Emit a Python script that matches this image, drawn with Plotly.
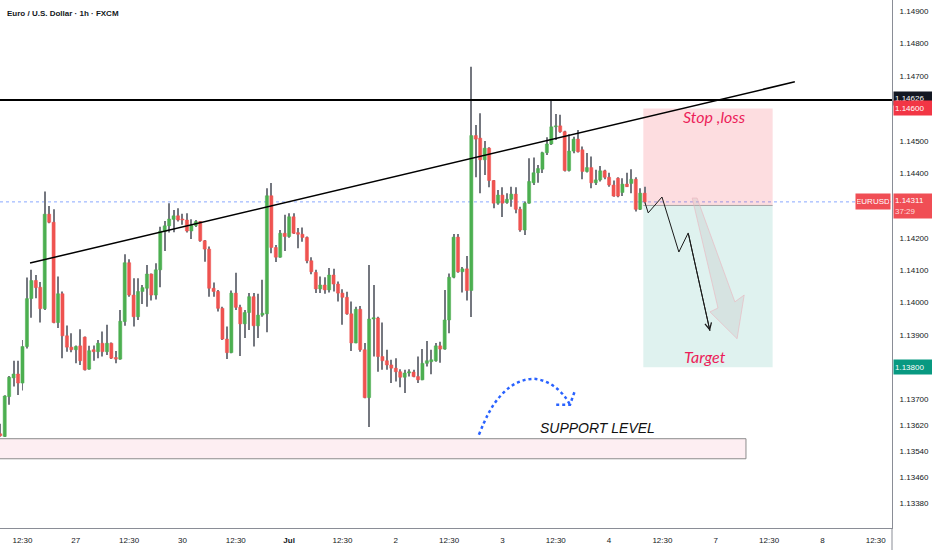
import plotly.graph_objects as go

# hourly EURUSD candles, bar index -1 .. 144
opens = [1.13594, 1.13586, 1.13709, 1.13767, 1.13779, 1.13751, 1.13864, 1.14012, 1.14068, 1.14047,
         1.13981, 1.14273, 1.14248, 1.13938, 1.14027, 1.13897, 1.13862, 1.13854, 1.13866, 1.13893,
         1.13794, 1.13854, 1.13848, 1.13874, 1.13848, 1.13874, 1.13830, 1.13825, 1.13941, 1.14123,
         1.14023, 1.13956, 1.14034, 1.14044, 1.14088, 1.14023, 1.14101, 1.14219, 1.14237, 1.14257,
         1.14268, 1.14258, 1.14255, 1.14221, 1.14238, 1.14250, 1.14191, 1.14165, 1.14044, 1.14034,
         1.13982, 1.13887, 1.13845, 1.14029, 1.13985, 1.13934, 1.13969, 1.14018, 1.13928, 1.13961,
         1.13965, 1.14330, 1.14170, 1.14140, 1.14214, 1.14204, 1.14265, 1.14216, 1.14211, 1.14201,
         1.14129, 1.14093, 1.14042, 1.14054, 1.14039, 1.14085, 1.14057, 1.14029, 1.14016, 1.13965,
         1.13875, 1.13979, 1.13854, 1.13706, 1.13949, 1.13952, 1.13833, 1.13820, 1.13807, 1.13797,
         1.13786, 1.13769, 1.13782, 1.13785, 1.13771, 1.13761, 1.13812, 1.13817, 1.13820, 1.13866,
         1.13856, 1.13946, 1.14078, 1.14202, 1.14095, 1.14104, 1.14037, 1.14516, 1.14508, 1.14441,
         1.14477, 1.14377, 1.14307, 1.14332, 1.14309, 1.14319, 1.14335, 1.14288, 1.14224, 1.14307,
         1.14370, 1.14401, 1.14412, 1.14463, 1.14490, 1.14543, 1.14546, 1.14528, 1.14408, 1.14468,
         1.14505, 1.14472, 1.14405, 1.14417, 1.14370, 1.14379, 1.14407, 1.14387, 1.14363, 1.14384,
         1.14340, 1.14366, 1.14368, 1.14381, 1.14288, 1.14338]
highs = [1.13625, 1.13713, 1.13773, 1.13820, 1.13820, 1.13884, 1.14077, 1.14101, 1.14085, 1.14063,
         1.14343, 1.14298, 1.14288, 1.14080, 1.14034, 1.13929, 1.13905, 1.13867, 1.13917, 1.13895,
         1.13866, 1.13867, 1.13884, 1.13910, 1.13931, 1.13876, 1.13850, 1.13977, 1.14149, 1.14134,
         1.14075, 1.14075, 1.14054, 1.14116, 1.14090, 1.14121, 1.14234, 1.14252, 1.14307, 1.14286,
         1.14291, 1.14274, 1.14276, 1.14257, 1.14255, 1.14252, 1.14193, 1.14173, 1.14062, 1.14039,
         1.13987, 1.13926, 1.14037, 1.14092, 1.13993, 1.13977, 1.14029, 1.14029, 1.14027, 1.14070,
         1.14353, 1.14369, 1.14178, 1.14224, 1.14271, 1.14276, 1.14276, 1.14230, 1.14232, 1.14204,
         1.14140, 1.14101, 1.14080, 1.14078, 1.14107, 1.14104, 1.14065, 1.14041, 1.14033, 1.14003,
         1.13987, 1.13989, 1.13875, 1.14116, 1.14054, 1.13956, 1.13938, 1.13854, 1.13823, 1.13828,
         1.13794, 1.13792, 1.13794, 1.13792, 1.13833, 1.13856, 1.13881, 1.13854, 1.13875, 1.13879,
         1.14039, 1.14090, 1.14212, 1.14212, 1.14110, 1.14144, 1.14729, 1.14549, 1.14585, 1.14499,
         1.14480, 1.14379, 1.14348, 1.14356, 1.14338, 1.14358, 1.14356, 1.14296, 1.14312, 1.14446,
         1.14448, 1.14425, 1.14466, 1.14511, 1.14626, 1.14583, 1.14580, 1.14531, 1.14520, 1.14512,
         1.14533, 1.14482, 1.14462, 1.14451, 1.14410, 1.14422, 1.14410, 1.14401, 1.14377, 1.14387,
         1.14384, 1.14401, 1.14412, 1.14387, 1.14353, 1.14358]
lows = [1.13585, 1.13584, 1.13684, 1.13740, 1.13714, 1.13728, 1.13858, 1.13953, 1.14013, 1.13938,
        1.13977, 1.14245, 1.13936, 1.13921, 1.13828, 1.13848, 1.13846, 1.13812, 1.13807, 1.13790,
        1.13792, 1.13820, 1.13828, 1.13833, 1.13838, 1.13825, 1.13812, 1.13823, 1.13928, 1.14018,
        1.13926, 1.13946, 1.13995, 1.13987, 1.14006, 1.14009, 1.14047, 1.14159, 1.14216, 1.14217,
        1.14250, 1.14240, 1.14216, 1.14196, 1.14233, 1.14188, 1.14126, 1.14018, 1.14018, 1.13972,
        1.13884, 1.13825, 1.13843, 1.13977, 1.13835, 1.13890, 1.13915, 1.13864, 1.13890, 1.13956,
        1.13908, 1.14152, 1.14125, 1.14138, 1.14159, 1.14200, 1.14212, 1.14168, 1.14188, 1.14121,
        1.14087, 1.14029, 1.14029, 1.14027, 1.14031, 1.14034, 1.14003, 1.13931, 1.13962, 1.13850,
        1.13874, 1.13848, 1.13704, 1.13615, 1.13833, 1.13786, 1.13792, 1.13792, 1.13751, 1.13756,
        1.13738, 1.13720, 1.13771, 1.13769, 1.13751, 1.13760, 1.13802, 1.13778, 1.13817, 1.13814,
        1.13854, 1.13905, 1.14075, 1.14092, 1.14031, 1.14006, 1.13955, 1.14387, 1.14338, 1.14394,
        1.14356, 1.14291, 1.14302, 1.14264, 1.14305, 1.14296, 1.14276, 1.14219, 1.14209, 1.14305,
        1.14363, 1.14370, 1.14400, 1.14456, 1.14487, 1.14502, 1.14525, 1.14405, 1.14405, 1.14461,
        1.14464, 1.14381, 1.14402, 1.14353, 1.14363, 1.14374, 1.14381, 1.14358, 1.14327, 1.14325,
        1.14329, 1.14357, 1.14338, 1.14281, 1.14286, 1.14307]
closes = [1.13588, 1.13711, 1.13769, 1.13779, 1.13751, 1.13864, 1.14012, 1.14068, 1.14046, 1.13981,
          1.14273, 1.14248, 1.13938, 1.14027, 1.13897, 1.13862, 1.13854, 1.13864, 1.13820, 1.13792,
          1.13851, 1.13848, 1.13874, 1.13848, 1.13874, 1.13828, 1.13825, 1.13942, 1.14123, 1.14023,
          1.13956, 1.14034, 1.14046, 1.14088, 1.14023, 1.14101, 1.14221, 1.14237, 1.14258, 1.14268,
          1.14255, 1.14255, 1.14221, 1.14238, 1.14250, 1.14191, 1.14165, 1.14044, 1.14034, 1.13982,
          1.13887, 1.13845, 1.14029, 1.13985, 1.13934, 1.13969, 1.14018, 1.13928, 1.13961, 1.13967,
          1.14330, 1.14170, 1.14140, 1.14214, 1.14204, 1.14265, 1.14214, 1.14211, 1.14201, 1.14129,
          1.14095, 1.14042, 1.14054, 1.14039, 1.14085, 1.14057, 1.14029, 1.14016, 1.13965, 1.13875,
          1.13979, 1.13854, 1.13706, 1.13949, 1.13953, 1.13833, 1.13820, 1.13807, 1.13797, 1.13786,
          1.13769, 1.13782, 1.13786, 1.13771, 1.13761, 1.13812, 1.13820, 1.13823, 1.13866, 1.13856,
          1.13946, 1.14078, 1.14202, 1.14095, 1.14104, 1.14037, 1.14516, 1.14505, 1.14441, 1.14477,
          1.14377, 1.14307, 1.14332, 1.14307, 1.14319, 1.14335, 1.14288, 1.14224, 1.14307, 1.14374,
          1.14401, 1.14414, 1.14463, 1.14490, 1.14543, 1.14546, 1.14528, 1.14408, 1.14468, 1.14505,
          1.14466, 1.14405, 1.14417, 1.14370, 1.14379, 1.14407, 1.14387, 1.14363, 1.14329, 1.14329,
          1.14366, 1.14358, 1.14381, 1.14288, 1.14338, 1.14311]
bars = list(range(-1, len(closes) - 1))

# time axis (bar index of each label)
time_ticks = [4, 16, 28, 40, 52, 64, 76, 88, 100, 112, 124, 136, 148, 160, 172, 184, 196]
time_labels = ['12:30', '27', '12:30', '30', '12:30', '<b>Jul</b>', '12:30', '2', '12:30', '3',
               '12:30', '4', '12:30', '7', '12:30', '8', '12:30']
price_ticks = [1.149, 1.148, 1.147, 1.145, 1.144, 1.142, 1.141, 1.140, 1.139, 1.137,
               1.1362, 1.1354, 1.1346, 1.1338]

# drawings
resistance = 1.14626
last_price = 1.14311
trend_line = [(5.7, 1.14122), (177.8, 1.14682)]
entry, stop, target = 1.14300, 1.14600, 1.13800
position_bars = (143.7, 172.8)
support_zone = (1.13517, 1.13579)
support_end = 166.8
zigzag_bars = [144.1, 144.8, 147.9, 151.7, 153.8, 158.7]
zigzag_prices = [1.14308, 1.14277, 1.14326, 1.14156, 1.14215, 1.13912]
big_arrow = [(154.7, 1.14323), (160.5, 1.13983), (158.7, 1.13971), (164.8, 1.13888),
             (166.4, 1.14023), (164.3, 1.14002), (155.8, 1.14323)]
arc_bars = [106.7, 108.7, 110.8, 113.7, 116.4, 119.1, 121.8, 124.1, 126.1, 127.2]
arc_prices = [1.13591, 1.13653, 1.13699, 1.13739, 1.13758, 1.13764, 1.13755, 1.13736, 1.13708, 1.13684]

GREEN = '#4caf50'
RED = '#ef5350'
WICK = '#74777f'
AXIS = '#8a8d96'
TEXT = '#131722'
PINK = '#ec1e5a'

fig = go.Figure()

# candles as two overlaid bar traces: thin grey wick (low..high), then the coloured body
wick_len = [h - l for h, l in zip(highs, lows)]
fig.add_trace(go.Bar(x=bars, y=wick_len, base=lows, width=0.22,
                     marker=dict(color=WICK, line=dict(width=0)),
                     hoverinfo='skip', showlegend=False))
body_bot = [min(o, c) for o, c in zip(opens, closes)]
body_len = [abs(c - o) for o, c in zip(opens, closes)]
body_col = [GREEN if c >= o else RED for o, c in zip(opens, closes)]
fig.add_trace(go.Bar(x=bars, y=body_len, base=body_bot, width=0.7,
                     marker=dict(color=body_col, line=dict(color=body_col, width=0.5)),
                     hoverinfo='skip', showlegend=False))

# zigzag projection
fig.add_trace(go.Scatter(x=zigzag_bars, y=zigzag_prices, mode='lines',
                         line=dict(color='#1a1a1a', width=1), hoverinfo='skip', showlegend=False))

# blue dashed arc with hook
fig.add_trace(go.Scatter(x=arc_bars, y=arc_prices, mode='lines',
                         line=dict(color='#2962ff', width=2.5, dash='3px,3px', shape='spline'),
                         hoverinfo='skip', showlegend=False))
fig.add_trace(go.Scatter(x=[124.1, arc_bars[-1], 128.3], y=[1.13684, arc_prices[-1], 1.13727],
                         mode='lines', line=dict(color='#2962ff', width=2.5, dash='3px,3px'),
                         hoverinfo='skip', showlegend=False))

shapes = [
    dict(type='rect', x0=-5, x1=support_end, y0=support_zone[0], y1=support_zone[1],
         fillcolor='#fdeef2', line=dict(color='#8c8c8c', width=1), layer='below'),
    dict(type='rect', x0=position_bars[0], x1=position_bars[1], y0=entry, y1=stop,
         fillcolor='rgba(242,54,69,0.17)', line=dict(width=0), layer='below'),
    dict(type='rect', x0=position_bars[0], x1=position_bars[1], y0=target, y1=entry,
         fillcolor='rgba(8,153,129,0.13)', line=dict(width=0), layer='below'),
    dict(type='line', x0=position_bars[0], x1=position_bars[1], y0=entry, y1=entry,
         line=dict(color='#a3a3a3', width=1), layer='below'),
    dict(type='line', xref='paper', x0=0, x1=1, y0=last_price, y1=last_price,
         line=dict(color='rgba(41,98,255,0.55)', width=1, dash='dot'), layer='below'),
    dict(type='line', xref='paper', x0=0, x1=1, y0=resistance, y1=resistance,
         line=dict(color='#000000', width=2)),
    dict(type='line', x0=trend_line[0][0], y0=trend_line[0][1], x1=trend_line[1][0],
         y1=trend_line[1][1], line=dict(color='#000000', width=1.5)),
    dict(type='path',
         path='M ' + ' L '.join(f'{b},{p}' for b, p in big_arrow) + ' Z',
         fillcolor='rgba(190,190,190,0.28)', line=dict(color='rgba(235,180,190,0.6)', width=1)),
    dict(type='line', xref='paper', yref='paper', x0=1, x1=1, y0=-0.06, y1=0,
         line=dict(color=AXIS, width=1)),
]

annotations = [
    dict(xref='paper', yref='paper', x=0, y=1, xanchor='left', yanchor='middle', xshift=5,
         yshift=-13, showarrow=False, text='Euro / U.S. Dollar · 1h · FXCM',
         font=dict(family='Liberation Sans', size=8, color=TEXT, weight='bold')),
    dict(x=zigzag_bars[-1], y=zigzag_prices[-1], ax=zigzag_bars[-2], ay=zigzag_prices[-2],
         axref='x', ayref='y', text='', showarrow=True, arrowhead=5, arrowsize=1.3,
         arrowwidth=1, arrowcolor='#1a1a1a', standoff=0),
    dict(x=159.8, y=1.14574, text='<i>Stop ,loss</i>', showarrow=False,
         font=dict(family='Lato', size=16, color=PINK)),
    dict(x=157.6, y=1.13833, text='<i>Target</i>', showarrow=False,
         font=dict(family='Lato', size=16, color=PINK)),
    dict(x=133.3, y=1.13612, text='<i>SUPPORT LEVEL</i>', showarrow=False,
         font=dict(family='Liberation Sans', size=14, color='#111111')),
    # price axis labels
    dict(xref='paper', x=1, y=resistance, xanchor='left', yanchor='middle', xshift=1, yshift=1,
         text='1.14626', showarrow=False, bgcolor='#131722', width=38, height=11, align='left',
         font=dict(family='Liberation Sans', size=8, color='white')),
    dict(xref='paper', x=1, y=stop, xanchor='left', yanchor='middle', xshift=1,
         text='1.14600', showarrow=False, bgcolor='#f23645', width=38, height=12, align='left',
         font=dict(family='Liberation Sans', size=8, color='white')),
    dict(xref='paper', x=1, y=last_price, xanchor='left', yanchor='middle', xshift=1, yshift=-4,
         text='1.14311<br><span style="color:#fdd">37:29</span>', showarrow=False,
         bgcolor='#f04e55', width=38, height=22, align='left',
         font=dict(family='Liberation Sans', size=8, color='white')),
    dict(xref='paper', x=1, y=last_price, xanchor='right', yanchor='middle', xshift=-1,
         text='EURUSD', showarrow=False, bgcolor='#f04e55', width=32, height=13,
         font=dict(family='Liberation Sans', size=8, color='white')),
    dict(xref='paper', x=1, y=target, xanchor='left', yanchor='middle', xshift=1,
         text='1.13800', showarrow=False, bgcolor='#089981', width=38, height=12, align='left',
         font=dict(family='Liberation Sans', size=8, color='white')),
]

fig.update_layout(
    width=932, height=550,
    margin=dict(l=0, r=40, t=0, b=22),
    paper_bgcolor='white', plot_bgcolor='white',
    showlegend=False, shapes=shapes, annotations=annotations,
    hovermode=False, barmode='overlay',
    xaxis=dict(range=[-1.06, 199.66], showgrid=False,
               zeroline=False, showline=True, linecolor=AXIS, linewidth=1,
               tickmode='array', tickvals=time_ticks, ticktext=time_labels, ticks='',
               ticklabelstandoff=4,
               tickfont=dict(family='Liberation Sans', size=8, color=TEXT)),
    yaxis=dict(range=[1.13303, 1.14935], side='right', showgrid=False, zeroline=False,
               showline=True, linecolor=AXIS, linewidth=1, tickmode='array',
               tickvals=price_ticks, tickformat='.5f', ticks='', ticklabelstandoff=5,
               tickfont=dict(family='Liberation Sans', size=8, color=TEXT)),
)

# the page body has a default 8px margin; drop it so the chart sits at the window corner
fig.write_html("out.html", config={'displayModeBar': False},
               post_script="document.body.style.margin = '0';")
